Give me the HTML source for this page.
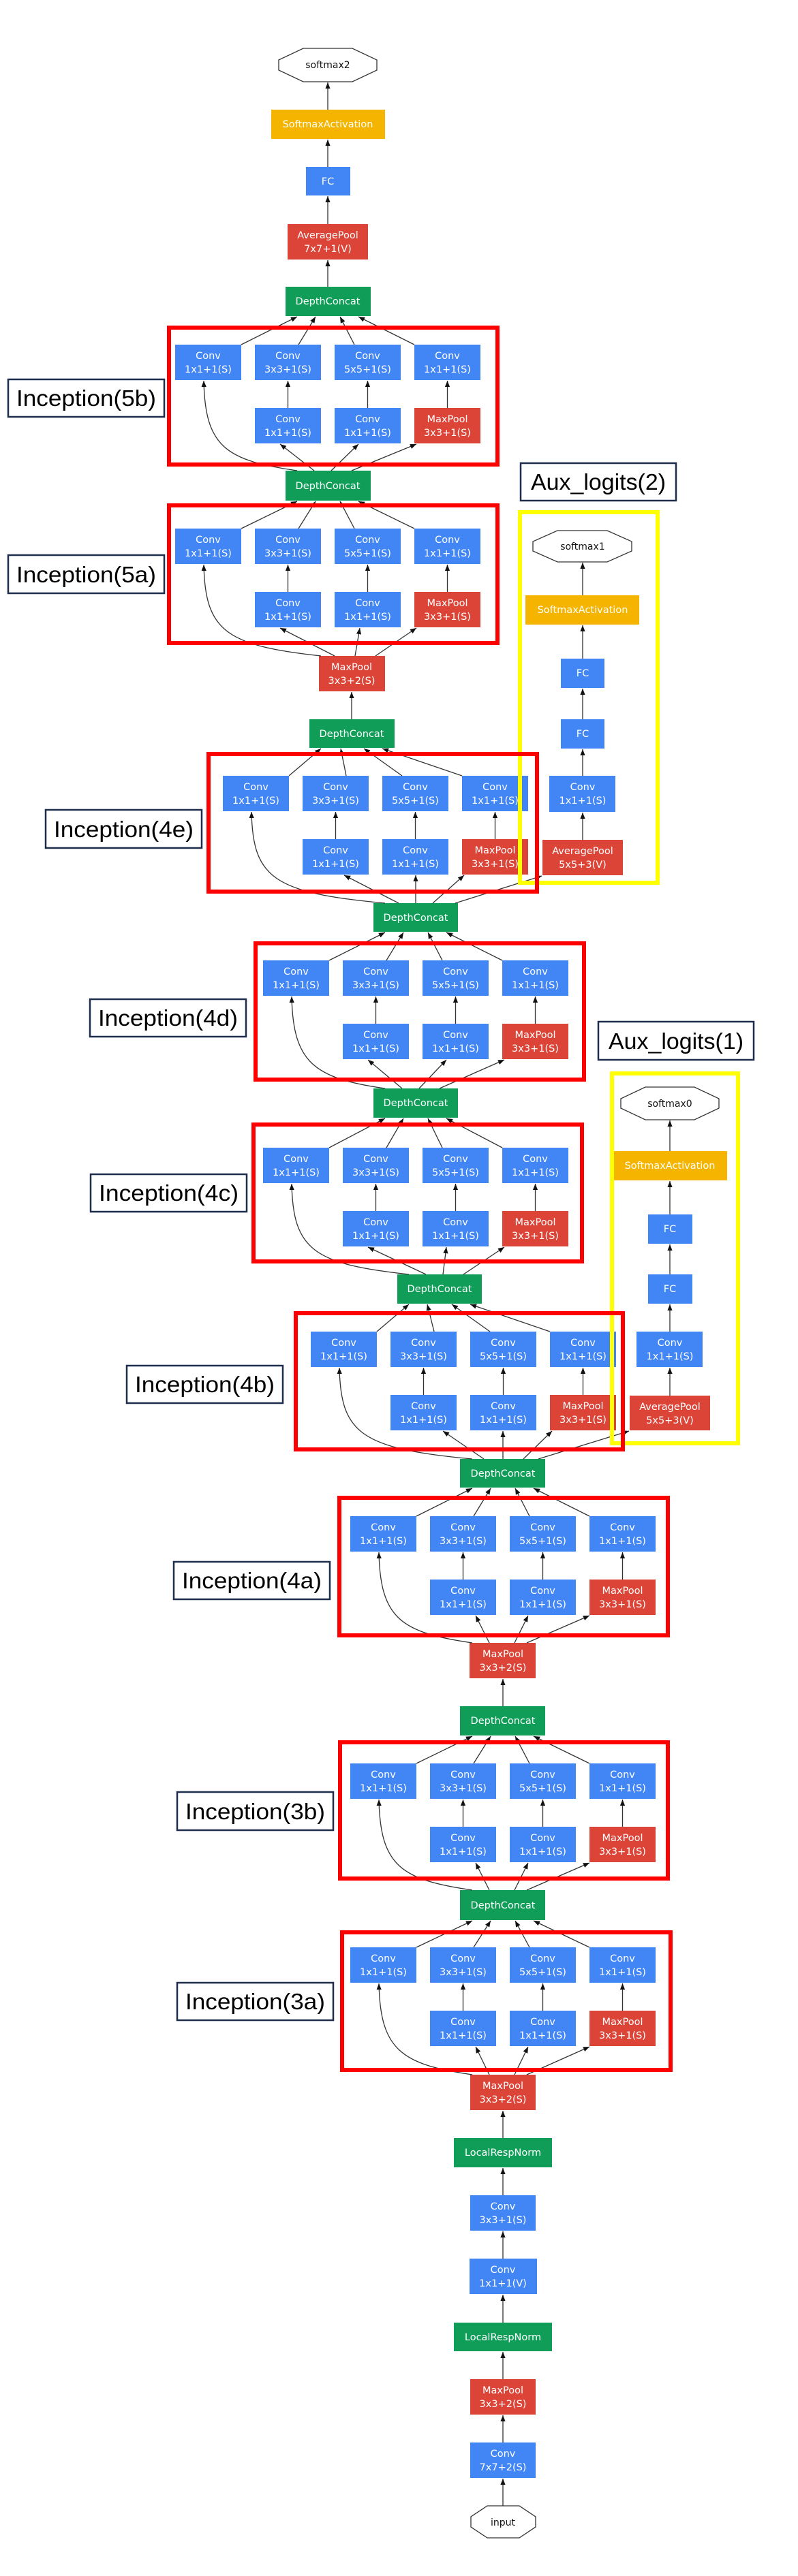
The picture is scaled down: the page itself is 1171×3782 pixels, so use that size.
<!DOCTYPE html>
<html><head><meta charset="utf-8"><style>
html,body{margin:0;padding:0;background:#fff}
svg{display:block}
.t{font-family:"DejaVu Sans","Liberation Sans",sans-serif;font-size:14.5px;fill:#fff;text-anchor:middle}
.k{font-family:"DejaVu Sans","Liberation Sans",sans-serif;font-size:14px;fill:#111;text-anchor:middle}
.L{font-family:"Liberation Sans",sans-serif;font-size:33px;fill:#000;text-anchor:middle}
.b{fill:#4285f4}.r{fill:#db4437}.g{fill:#0f9d58}.y{fill:#f4b400}
.e{stroke:#333;stroke-width:1.3;fill:none;marker-end:url(#a)}
.o{fill:#fff;stroke:#333;stroke-width:1.3}
.rb{fill:none;stroke:#ff0000;stroke-width:6}
.yb{fill:none;stroke:#ffff00;stroke-width:6}
.lb{fill:#fff;stroke:#1f2d4d;stroke-width:2.5}
</style></head><body>
<svg width="1171" height="3782" viewBox="0 0 1171 3782" xmlns="http://www.w3.org/2000/svg">
<defs><marker id="a" viewBox="0 0 10 10" refX="10" refY="5" markerWidth="7" markerHeight="7" orient="auto"><path d="M0,1 L10,5 L0,9z" fill="#111"/></marker></defs>

<!-- ===== top chain ===== -->
<polygon class="o" points="445,71 517,71 553,88 553,103 517,120 445,120 409,103 409,88"/>
<text class="k" x="481" y="100">softmax2</text>
<rect class="y" x="398" y="161" width="167" height="43"/><text class="t" x="481" y="187">SoftmaxActivation</text>
<rect class="b" x="449" y="245" width="65" height="42"/><text class="t" x="481" y="271">FC</text>
<rect class="r" x="422" y="329" width="118" height="52"/><text class="t" x="481" y="350">AveragePool</text><text class="t" x="481" y="370">7x7+1(V)</text>
<rect class="g" x="419" y="421" width="125" height="43"/><text class="t" x="481" y="447">DepthConcat</text>
<path class="e" d="M481,161 L481,121"/><path class="e" d="M481,245 L481,205"/><path class="e" d="M481,329 L481,288"/><path class="e" d="M481,421 L481,382"/>

<rect class="g" x="419" y="691" width="125" height="44"/><text class="t" x="481" y="718">DepthConcat</text>
<rect class="r" x="468" y="963" width="97" height="52"/><text class="t" x="516" y="984">MaxPool</text><text class="t" x="516" y="1004">3x3+2(S)</text>
<rect class="g" x="454" y="1056" width="125" height="42"/><text class="t" x="516" y="1082">DepthConcat</text>
<path class="e" d="M516,1056 L516,1016"/>
<rect class="g" x="548" y="1326" width="124" height="42"/><text class="t" x="610" y="1352">DepthConcat</text>
<rect class="g" x="548" y="1598" width="124" height="43"/><text class="t" x="610" y="1624">DepthConcat</text>
<rect class="g" x="583" y="1871" width="124" height="43"/><text class="t" x="645" y="1897">DepthConcat</text>
<rect class="g" x="675" y="2142" width="125" height="42"/><text class="t" x="738" y="2168">DepthConcat</text>
<rect class="r" x="689" y="2412" width="97" height="52"/><text class="t" x="738" y="2433">MaxPool</text><text class="t" x="738" y="2453">3x3+2(S)</text>
<rect class="g" x="675" y="2505" width="125" height="43"/><text class="t" x="738" y="2531">DepthConcat</text>
<path class="e" d="M738,2505 L738,2465"/>
<rect class="g" x="675" y="2775" width="125" height="44"/><text class="t" x="738" y="2802">DepthConcat</text>
<rect class="r" x="690" y="3046" width="96" height="52"/><text class="t" x="738" y="3067">MaxPool</text><text class="t" x="738" y="3087">3x3+2(S)</text>
<rect class="g" x="666" y="3139" width="144" height="43"/><text class="t" x="738" y="3165">LocalRespNorm</text>
<rect class="b" x="690" y="3223" width="96" height="52"/><text class="t" x="738" y="3244">Conv</text><text class="t" x="738" y="3264">3x3+1(S)</text>
<rect class="b" x="689" y="3316" width="99" height="52"/><text class="t" x="738" y="3337">Conv</text><text class="t" x="738" y="3357">1x1+1(V)</text>
<rect class="g" x="666" y="3410" width="144" height="42"/><text class="t" x="738" y="3436">LocalRespNorm</text>
<rect class="r" x="690" y="3493" width="96" height="52"/><text class="t" x="738" y="3514">MaxPool</text><text class="t" x="738" y="3534">3x3+2(S)</text>
<rect class="b" x="690" y="3586" width="96" height="52"/><text class="t" x="738" y="3607">Conv</text><text class="t" x="738" y="3627">7x7+2(S)</text>
<polygon class="o" points="715,3679 762,3679 786,3695 786,3710 762,3726 715,3726 691,3710 691,3695"/>
<text class="k" x="738" y="3708">input</text>
<path class="e" d="M738,3139 L738,3099"/><path class="e" d="M738,3223 L738,3183"/><path class="e" d="M738,3316 L738,3276"/><path class="e" d="M738,3410 L738,3369"/><path class="e" d="M738,3493 L738,3453"/><path class="e" d="M738,3586 L738,3546"/><path class="e" d="M738,3679 L738,3639"/>

<!-- ===== Inception blocks ===== -->
<!-- 5b cx481 T506 -->
<g transform="translate(481,506)">
<rect class="b" x="-224" y="0" width="97" height="52"/><rect class="b" x="-107" y="0" width="97" height="52"/><rect class="b" x="10" y="0" width="97" height="52"/><rect class="b" x="127" y="0" width="97" height="52"/>
<rect class="b" x="-107" y="93" width="97" height="52"/><rect class="b" x="10" y="93" width="97" height="52"/><rect class="r" x="127" y="93" width="97" height="52"/>
<text class="t" x="-175.5" y="21">Conv</text><text class="t" x="-175.5" y="41">1x1+1(S)</text>
<text class="t" x="-58.5" y="21">Conv</text><text class="t" x="-58.5" y="41">3x3+1(S)</text>
<text class="t" x="58.5" y="21">Conv</text><text class="t" x="58.5" y="41">5x5+1(S)</text>
<text class="t" x="175.5" y="21">Conv</text><text class="t" x="175.5" y="41">1x1+1(S)</text>
<text class="t" x="-58.5" y="114">Conv</text><text class="t" x="-58.5" y="134">1x1+1(S)</text>
<text class="t" x="58.5" y="114">Conv</text><text class="t" x="58.5" y="134">1x1+1(S)</text>
<text class="t" x="175.5" y="114">MaxPool</text><text class="t" x="175.5" y="134">3x3+1(S)</text>
<path class="e" d="M-58.5,93 L-58.5,53"/><path class="e" d="M58.5,93 L58.5,53"/><path class="e" d="M175.5,93 L175.5,53"/>
</g>
<path class="e" d="M354,506 L436,465"/><path class="e" d="M438,506 L463,465"/><path class="e" d="M520,506 L499,465"/><path class="e" d="M608,506 L526,465"/>
<path class="e" d="M461,691 L411,652"/><path class="e" d="M486,691 L526,652"/><path class="e" d="M516,691 L611,652"/><path class="e" d="M436,691 C331,676 301,656 299,559"/>

<!-- 5a cx481 T776 -->
<g transform="translate(481,776)">
<rect class="b" x="-224" y="0" width="97" height="52"/><rect class="b" x="-107" y="0" width="97" height="52"/><rect class="b" x="10" y="0" width="97" height="52"/><rect class="b" x="127" y="0" width="97" height="52"/>
<rect class="b" x="-107" y="93" width="97" height="52"/><rect class="b" x="10" y="93" width="97" height="52"/><rect class="r" x="127" y="93" width="97" height="52"/>
<text class="t" x="-175.5" y="21">Conv</text><text class="t" x="-175.5" y="41">1x1+1(S)</text>
<text class="t" x="-58.5" y="21">Conv</text><text class="t" x="-58.5" y="41">3x3+1(S)</text>
<text class="t" x="58.5" y="21">Conv</text><text class="t" x="58.5" y="41">5x5+1(S)</text>
<text class="t" x="175.5" y="21">Conv</text><text class="t" x="175.5" y="41">1x1+1(S)</text>
<text class="t" x="-58.5" y="114">Conv</text><text class="t" x="-58.5" y="134">1x1+1(S)</text>
<text class="t" x="58.5" y="114">Conv</text><text class="t" x="58.5" y="134">1x1+1(S)</text>
<text class="t" x="175.5" y="114">MaxPool</text><text class="t" x="175.5" y="134">3x3+1(S)</text>
<path class="e" d="M-58.5,93 L-58.5,53"/><path class="e" d="M58.5,93 L58.5,53"/><path class="e" d="M175.5,93 L175.5,53"/>
</g>
<path class="e" d="M354,776 L436,736"/><path class="e" d="M438,776 L463,736"/><path class="e" d="M520,776 L499,736"/><path class="e" d="M608,776 L526,736"/>
<path class="e" d="M491,963 L411,922"/><path class="e" d="M521,963 L528,922"/><path class="e" d="M551,963 L611,922"/><path class="e" d="M471,963 C331,948 301,926 299,829"/>

<!-- 4e cx551 T1139 -->
<g transform="translate(551,1139)">
<rect class="b" x="-224" y="0" width="97" height="52"/><rect class="b" x="-107" y="0" width="97" height="52"/><rect class="b" x="10" y="0" width="97" height="52"/><rect class="b" x="127" y="0" width="97" height="52"/>
<rect class="b" x="-107" y="93" width="97" height="52"/><rect class="b" x="10" y="93" width="97" height="52"/><rect class="r" x="127" y="93" width="97" height="52"/>
<text class="t" x="-175.5" y="21">Conv</text><text class="t" x="-175.5" y="41">1x1+1(S)</text>
<text class="t" x="-58.5" y="21">Conv</text><text class="t" x="-58.5" y="41">3x3+1(S)</text>
<text class="t" x="58.5" y="21">Conv</text><text class="t" x="58.5" y="41">5x5+1(S)</text>
<text class="t" x="175.5" y="21">Conv</text><text class="t" x="175.5" y="41">1x1+1(S)</text>
<text class="t" x="-58.5" y="114">Conv</text><text class="t" x="-58.5" y="134">1x1+1(S)</text>
<text class="t" x="58.5" y="114">Conv</text><text class="t" x="58.5" y="134">1x1+1(S)</text>
<text class="t" x="175.5" y="114">MaxPool</text><text class="t" x="175.5" y="134">3x3+1(S)</text>
<path class="e" d="M-58.5,93 L-58.5,53"/><path class="e" d="M58.5,93 L58.5,53"/><path class="e" d="M175.5,93 L175.5,53"/>
</g>
<path class="e" d="M424,1139 L471,1099"/><path class="e" d="M508,1139 L500,1099"/><path class="e" d="M590,1139 L534,1099"/><path class="e" d="M678,1139 L561,1099"/>
<path class="e" d="M585,1326 L505,1285"/><path class="e" d="M610,1326 L610,1285"/><path class="e" d="M635,1326 L681,1285"/><path class="e" d="M565,1326 C401,1311 371,1289 369,1192"/>
<path class="e" d="M668,1326 L795,1286"/>

<!-- 4d cx610 T1410 -->
<g transform="translate(610,1410)">
<rect class="b" x="-224" y="0" width="97" height="52"/><rect class="b" x="-107" y="0" width="97" height="52"/><rect class="b" x="10" y="0" width="97" height="52"/><rect class="b" x="127" y="0" width="97" height="52"/>
<rect class="b" x="-107" y="93" width="97" height="52"/><rect class="b" x="10" y="93" width="97" height="52"/><rect class="r" x="127" y="93" width="97" height="52"/>
<text class="t" x="-175.5" y="21">Conv</text><text class="t" x="-175.5" y="41">1x1+1(S)</text>
<text class="t" x="-58.5" y="21">Conv</text><text class="t" x="-58.5" y="41">3x3+1(S)</text>
<text class="t" x="58.5" y="21">Conv</text><text class="t" x="58.5" y="41">5x5+1(S)</text>
<text class="t" x="175.5" y="21">Conv</text><text class="t" x="175.5" y="41">1x1+1(S)</text>
<text class="t" x="-58.5" y="114">Conv</text><text class="t" x="-58.5" y="134">1x1+1(S)</text>
<text class="t" x="58.5" y="114">Conv</text><text class="t" x="58.5" y="134">1x1+1(S)</text>
<text class="t" x="175.5" y="114">MaxPool</text><text class="t" x="175.5" y="134">3x3+1(S)</text>
<path class="e" d="M-58.5,93 L-58.5,53"/><path class="e" d="M58.5,93 L58.5,53"/><path class="e" d="M175.5,93 L175.5,53"/>
</g>
<path class="e" d="M483,1410 L565,1369"/><path class="e" d="M567,1410 L592,1369"/><path class="e" d="M649,1410 L628,1369"/><path class="e" d="M737,1410 L655,1369"/>
<path class="e" d="M590,1598 L540,1556"/><path class="e" d="M615,1598 L655,1556"/><path class="e" d="M645,1598 L740,1556"/><path class="e" d="M565,1598 C460,1583 430,1560 428,1463"/>

<!-- 4c cx610 T1685 -->
<g transform="translate(610,1685)">
<rect class="b" x="-224" y="0" width="97" height="52"/><rect class="b" x="-107" y="0" width="97" height="52"/><rect class="b" x="10" y="0" width="97" height="52"/><rect class="b" x="127" y="0" width="97" height="52"/>
<rect class="b" x="-107" y="93" width="97" height="52"/><rect class="b" x="10" y="93" width="97" height="52"/><rect class="r" x="127" y="93" width="97" height="52"/>
<text class="t" x="-175.5" y="21">Conv</text><text class="t" x="-175.5" y="41">1x1+1(S)</text>
<text class="t" x="-58.5" y="21">Conv</text><text class="t" x="-58.5" y="41">3x3+1(S)</text>
<text class="t" x="58.5" y="21">Conv</text><text class="t" x="58.5" y="41">5x5+1(S)</text>
<text class="t" x="175.5" y="21">Conv</text><text class="t" x="175.5" y="41">1x1+1(S)</text>
<text class="t" x="-58.5" y="114">Conv</text><text class="t" x="-58.5" y="134">1x1+1(S)</text>
<text class="t" x="58.5" y="114">Conv</text><text class="t" x="58.5" y="134">1x1+1(S)</text>
<text class="t" x="175.5" y="114">MaxPool</text><text class="t" x="175.5" y="134">3x3+1(S)</text>
<path class="e" d="M-58.5,93 L-58.5,53"/><path class="e" d="M58.5,93 L58.5,53"/><path class="e" d="M175.5,93 L175.5,53"/>
</g>
<path class="e" d="M483,1685 L565,1642"/><path class="e" d="M567,1685 L592,1642"/><path class="e" d="M649,1685 L628,1642"/><path class="e" d="M737,1685 L655,1642"/>
<path class="e" d="M625,1871 L540,1831"/><path class="e" d="M650,1871 L655,1831"/><path class="e" d="M680,1871 L740,1831"/><path class="e" d="M600,1871 C460,1856 430,1835 428,1738"/>

<!-- 4b cx680 T1955 -->
<g transform="translate(680,1955)">
<rect class="b" x="-224" y="0" width="97" height="52"/><rect class="b" x="-107" y="0" width="97" height="52"/><rect class="b" x="10" y="0" width="97" height="52"/><rect class="b" x="127" y="0" width="97" height="52"/>
<rect class="b" x="-107" y="93" width="97" height="52"/><rect class="b" x="10" y="93" width="97" height="52"/><rect class="r" x="127" y="93" width="97" height="52"/>
<text class="t" x="-175.5" y="21">Conv</text><text class="t" x="-175.5" y="41">1x1+1(S)</text>
<text class="t" x="-58.5" y="21">Conv</text><text class="t" x="-58.5" y="41">3x3+1(S)</text>
<text class="t" x="58.5" y="21">Conv</text><text class="t" x="58.5" y="41">5x5+1(S)</text>
<text class="t" x="175.5" y="21">Conv</text><text class="t" x="175.5" y="41">1x1+1(S)</text>
<text class="t" x="-58.5" y="114">Conv</text><text class="t" x="-58.5" y="134">1x1+1(S)</text>
<text class="t" x="58.5" y="114">Conv</text><text class="t" x="58.5" y="134">1x1+1(S)</text>
<text class="t" x="175.5" y="114">MaxPool</text><text class="t" x="175.5" y="134">3x3+1(S)</text>
<path class="e" d="M-58.5,93 L-58.5,53"/><path class="e" d="M58.5,93 L58.5,53"/><path class="e" d="M175.5,93 L175.5,53"/>
</g>
<path class="e" d="M553,1955 L600,1915"/><path class="e" d="M637,1955 L627,1915"/><path class="e" d="M719,1955 L663,1915"/><path class="e" d="M807,1955 L690,1915"/>
<path class="e" d="M710,2142 L650,2101"/><path class="e" d="M738,2142 L738,2101"/><path class="e" d="M768,2142 L810,2101"/><path class="e" d="M693,2142 C530,2127 500,2105 498,2008"/>
<path class="e" d="M790,2142 L923,2101"/>

<!-- 4a cx738 T2226 -->
<g transform="translate(738,2226)">
<rect class="b" x="-224" y="0" width="97" height="52"/><rect class="b" x="-107" y="0" width="97" height="52"/><rect class="b" x="10" y="0" width="97" height="52"/><rect class="b" x="127" y="0" width="97" height="52"/>
<rect class="b" x="-107" y="93" width="97" height="52"/><rect class="b" x="10" y="93" width="97" height="52"/><rect class="r" x="127" y="93" width="97" height="52"/>
<text class="t" x="-175.5" y="21">Conv</text><text class="t" x="-175.5" y="41">1x1+1(S)</text>
<text class="t" x="-58.5" y="21">Conv</text><text class="t" x="-58.5" y="41">3x3+1(S)</text>
<text class="t" x="58.5" y="21">Conv</text><text class="t" x="58.5" y="41">5x5+1(S)</text>
<text class="t" x="175.5" y="21">Conv</text><text class="t" x="175.5" y="41">1x1+1(S)</text>
<text class="t" x="-58.5" y="114">Conv</text><text class="t" x="-58.5" y="134">1x1+1(S)</text>
<text class="t" x="58.5" y="114">Conv</text><text class="t" x="58.5" y="134">1x1+1(S)</text>
<text class="t" x="175.5" y="114">MaxPool</text><text class="t" x="175.5" y="134">3x3+1(S)</text>
<path class="e" d="M-58.5,93 L-58.5,53"/><path class="e" d="M58.5,93 L58.5,53"/><path class="e" d="M175.5,93 L175.5,53"/>
</g>
<path class="e" d="M611,2226 L693,2185"/><path class="e" d="M695,2226 L720,2185"/><path class="e" d="M777,2226 L756,2185"/><path class="e" d="M865,2226 L783,2185"/>
<path class="e" d="M718,2412 L698,2372"/><path class="e" d="M755,2412 L775,2372"/><path class="e" d="M773,2412 L865,2372"/><path class="e" d="M693,2412 C588,2397 558,2376 556,2279"/>

<!-- 3b cx738 T2589 -->
<g transform="translate(738,2589)">
<rect class="b" x="-224" y="0" width="97" height="52"/><rect class="b" x="-107" y="0" width="97" height="52"/><rect class="b" x="10" y="0" width="97" height="52"/><rect class="b" x="127" y="0" width="97" height="52"/>
<rect class="b" x="-107" y="93" width="97" height="52"/><rect class="b" x="10" y="93" width="97" height="52"/><rect class="r" x="127" y="93" width="97" height="52"/>
<text class="t" x="-175.5" y="21">Conv</text><text class="t" x="-175.5" y="41">1x1+1(S)</text>
<text class="t" x="-58.5" y="21">Conv</text><text class="t" x="-58.5" y="41">3x3+1(S)</text>
<text class="t" x="58.5" y="21">Conv</text><text class="t" x="58.5" y="41">5x5+1(S)</text>
<text class="t" x="175.5" y="21">Conv</text><text class="t" x="175.5" y="41">1x1+1(S)</text>
<text class="t" x="-58.5" y="114">Conv</text><text class="t" x="-58.5" y="134">1x1+1(S)</text>
<text class="t" x="58.5" y="114">Conv</text><text class="t" x="58.5" y="134">1x1+1(S)</text>
<text class="t" x="175.5" y="114">MaxPool</text><text class="t" x="175.5" y="134">3x3+1(S)</text>
<path class="e" d="M-58.5,93 L-58.5,53"/><path class="e" d="M58.5,93 L58.5,53"/><path class="e" d="M175.5,93 L175.5,53"/>
</g>
<path class="e" d="M611,2589 L693,2549"/><path class="e" d="M695,2589 L720,2549"/><path class="e" d="M777,2589 L756,2549"/><path class="e" d="M865,2589 L783,2549"/>
<path class="e" d="M718,2775 L698,2735"/><path class="e" d="M755,2775 L775,2735"/><path class="e" d="M773,2775 L865,2735"/><path class="e" d="M693,2775 C588,2760 558,2739 556,2642"/>

<!-- 3a cx738 T2859 -->
<g transform="translate(738,2859)">
<rect class="b" x="-224" y="0" width="97" height="52"/><rect class="b" x="-107" y="0" width="97" height="52"/><rect class="b" x="10" y="0" width="97" height="52"/><rect class="b" x="127" y="0" width="97" height="52"/>
<rect class="b" x="-107" y="93" width="97" height="52"/><rect class="b" x="10" y="93" width="97" height="52"/><rect class="r" x="127" y="93" width="97" height="52"/>
<text class="t" x="-175.5" y="21">Conv</text><text class="t" x="-175.5" y="41">1x1+1(S)</text>
<text class="t" x="-58.5" y="21">Conv</text><text class="t" x="-58.5" y="41">3x3+1(S)</text>
<text class="t" x="58.5" y="21">Conv</text><text class="t" x="58.5" y="41">5x5+1(S)</text>
<text class="t" x="175.5" y="21">Conv</text><text class="t" x="175.5" y="41">1x1+1(S)</text>
<text class="t" x="-58.5" y="114">Conv</text><text class="t" x="-58.5" y="134">1x1+1(S)</text>
<text class="t" x="58.5" y="114">Conv</text><text class="t" x="58.5" y="134">1x1+1(S)</text>
<text class="t" x="175.5" y="114">MaxPool</text><text class="t" x="175.5" y="134">3x3+1(S)</text>
<path class="e" d="M-58.5,93 L-58.5,53"/><path class="e" d="M58.5,93 L58.5,53"/><path class="e" d="M175.5,93 L175.5,53"/>
</g>
<path class="e" d="M611,2859 L693,2820"/><path class="e" d="M695,2859 L720,2820"/><path class="e" d="M777,2859 L756,2820"/><path class="e" d="M865,2859 L783,2820"/>
<path class="e" d="M718,3046 L698,3005"/><path class="e" d="M755,3046 L775,3005"/><path class="e" d="M773,3046 L865,3005"/><path class="e" d="M693,3046 C588,3031 558,3009 556,2912"/>

<!-- ===== Aux 2 ===== -->
<polygon class="o" points="818,779 891,779 927,795 927,809 891,825 818,825 782,809 782,795"/>
<text class="k" x="855" y="807">softmax1</text>
<rect class="y" x="771" y="874" width="167" height="43"/><text class="t" x="855" y="900">SoftmaxActivation</text>
<rect class="b" x="823" y="967" width="64" height="43"/><text class="t" x="855" y="993">FC</text>
<rect class="b" x="823" y="1056" width="64" height="43"/><text class="t" x="855" y="1082">FC</text>
<rect class="b" x="806" y="1139" width="97" height="53"/><text class="t" x="855" y="1160">Conv</text><text class="t" x="855" y="1180">1x1+1(S)</text>
<rect class="r" x="796" y="1233" width="118" height="52"/><text class="t" x="855" y="1254">AveragePool</text><text class="t" x="855" y="1274">5x5+3(V)</text>
<path class="e" d="M855,874 L855,826"/><path class="e" d="M855,967 L855,918"/><path class="e" d="M855,1056 L855,1011"/><path class="e" d="M855,1139 L855,1100"/><path class="e" d="M855,1233 L855,1193"/>

<!-- ===== Aux 1 ===== -->
<polygon class="o" points="947,1596 1019,1596 1055,1613 1055,1627 1019,1644 947,1644 911,1627 911,1613"/>
<text class="k" x="983" y="1625">softmax0</text>
<rect class="y" x="899" y="1690" width="168" height="43"/><text class="t" x="983" y="1716">SoftmaxActivation</text>
<rect class="b" x="951" y="1783" width="65" height="43"/><text class="t" x="983" y="1809">FC</text>
<rect class="b" x="951" y="1871" width="65" height="43"/><text class="t" x="983" y="1897">FC</text>
<rect class="b" x="934" y="1955" width="97" height="52"/><text class="t" x="983" y="1976">Conv</text><text class="t" x="983" y="1996">1x1+1(S)</text>
<rect class="r" x="924" y="2049" width="118" height="51"/><text class="t" x="983" y="2070">AveragePool</text><text class="t" x="983" y="2090">5x5+3(V)</text>
<path class="e" d="M983,1690 L983,1645"/><path class="e" d="M983,1783 L983,1734"/><path class="e" d="M983,1871 L983,1827"/><path class="e" d="M983,1955 L983,1915"/><path class="e" d="M983,2049 L983,2008"/>

<!-- ===== frames ===== -->
<rect class="yb" x="763" y="752" width="202" height="544"/>
<rect class="yb" x="898" y="1576" width="185" height="543"/>
<rect class="rb" x="248" y="481" width="482" height="201"/>
<rect class="rb" x="248" y="742" width="482" height="202"/>
<rect class="rb" x="306" y="1107" width="482" height="202"/>
<rect class="rb" x="375" y="1385" width="482" height="200"/>
<rect class="rb" x="372" y="1651" width="482" height="201"/>
<rect class="rb" x="434" y="1928" width="480" height="200"/>
<rect class="rb" x="498" y="2199" width="482" height="202"/>
<rect class="rb" x="499" y="2558" width="481" height="200"/>
<rect class="rb" x="502" y="2837" width="482" height="202"/>

<!-- ===== labels ===== -->
<rect class="lb" x="12" y="557" width="229" height="55"/><text class="L" x="126.5" y="596" textLength="205" lengthAdjust="spacingAndGlyphs">Inception(5b)</text>
<rect class="lb" x="12" y="815" width="229" height="56"/><text class="L" x="126.5" y="855" textLength="205" lengthAdjust="spacingAndGlyphs">Inception(5a)</text>
<rect class="lb" x="67" y="1189" width="229" height="56"/><text class="L" x="181.5" y="1229" textLength="205" lengthAdjust="spacingAndGlyphs">Inception(4e)</text>
<rect class="lb" x="132" y="1467" width="229" height="55"/><text class="L" x="246.5" y="1506" textLength="205" lengthAdjust="spacingAndGlyphs">Inception(4d)</text>
<rect class="lb" x="133" y="1724" width="229" height="55"/><text class="L" x="247.5" y="1763" textLength="205" lengthAdjust="spacingAndGlyphs">Inception(4c)</text>
<rect class="lb" x="186" y="2005" width="229" height="55"/><text class="L" x="300.5" y="2044" textLength="205" lengthAdjust="spacingAndGlyphs">Inception(4b)</text>
<rect class="lb" x="255" y="2293" width="229" height="55"/><text class="L" x="369.5" y="2332" textLength="205" lengthAdjust="spacingAndGlyphs">Inception(4a)</text>
<rect class="lb" x="260" y="2631" width="229" height="56"/><text class="L" x="374.5" y="2671" textLength="205" lengthAdjust="spacingAndGlyphs">Inception(3b)</text>
<rect class="lb" x="260" y="2911" width="229" height="55"/><text class="L" x="374.5" y="2950" textLength="205" lengthAdjust="spacingAndGlyphs">Inception(3a)</text>
<rect class="lb" x="764" y="680" width="228" height="55"/><text class="L" x="878" y="719" textLength="198" lengthAdjust="spacingAndGlyphs">Aux_logits(2)</text>
<rect class="lb" x="878" y="1500" width="228" height="56"/><text class="L" x="992" y="1540" textLength="198" lengthAdjust="spacingAndGlyphs">Aux_logits(1)</text>
</svg>
</body></html>
